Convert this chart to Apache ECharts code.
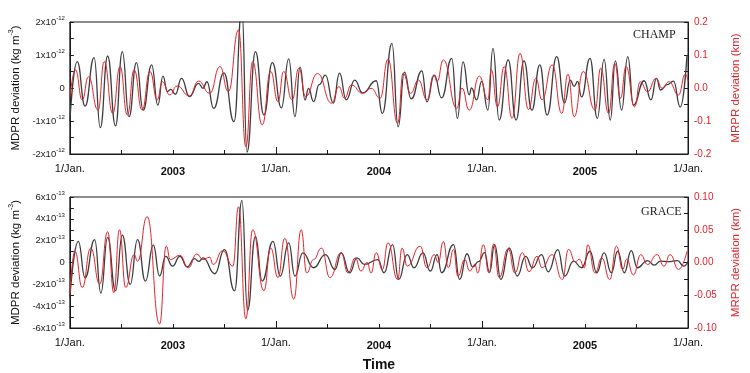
<!DOCTYPE html>
<html><head><meta charset="utf-8">
<script src="https://cdn.jsdelivr.net/npm/echarts@6/dist/echarts.min.js"></script>
<style>html,body{margin:0;padding:0;background:#fff}#c{width:750px;height:373px}</style>
</head><body><div id="c"></div>
<script>
// x values: days since 1 Jan 2003
const champMdprDay = [0,13,27,43,54,67,81,93,105,118,130,145,156,165,173,179,187,198,212,228,236,243,255,273,291,305,314,329,344,359,375,388,399,408,417,423,432,442,453,467,478,490,505,519,543,554,571,582,593,605,624,633,646,659,677,687,697,708,712,721,730,741,750,761,777,791,805,819,833,846,863,877,887,894,900,907,922,935,947,958,967,978,989,999,1018,1030,1040,1047,1059,1070,1082,1094];
// MDPR (x1e-12 kg m^-3)
const champMdprVal = [-1.0,0.80,-0.55,0.92,-1.20,0.97,-1.15,1.10,-0.87,0.77,-0.67,0.70,-0.52,0.36,-0.11,-0.04,-0.19,0.29,-0.26,0.14,-0.01,0.19,-0.62,0.46,-1.02,2.4,-1.94,1.10,-0.82,0.77,-0.60,0.88,-0.87,0.63,-0.36,-0.01,-0.41,0.10,0.39,-0.46,0.45,-0.36,0.24,-0.15,0.22,-0.77,1.35,-1.18,0.48,-0.33,0.52,-0.42,0.39,-0.30,0.9,-0.92,0.79,-0.21,0.0,-0.36,0.2,-0.67,1.2,-0.97,0.85,-0.97,0.82,-0.67,0.70,-0.82,0.95,-0.45,0.24,0.05,0.2,-0.27,0.9,-0.92,0.87,-0.97,0.82,-0.67,0.95,-0.52,0.22,-0.36,0.29,-0.06,0.1,0.21,-0.58,1.0];
const champMrprDay = [0,10,22,33,50,61,76,89,102,114,128,142,155,164,177,190,212,228,248,266,281,299,312,324,341,356,369,379,394,406,418,439,464,477,487,499,519,534,550,564,581,591,604,618,633,645,651,662,686,695,708,726,741,747,758,770,784,798,813,826,837,855,872,883,894,910,931,941,955,966,976,986,1001,1011,1024,1039,1050,1062,1079,1091,1096];
// MRPR (km)
const champMrprVal = [-0.03,0.055,-0.036,0.034,-0.067,0.08,-0.077,0.065,-0.082,0.055,-0.067,0.05,-0.036,0.019,-0.021,0.006,-0.024,0.021,-0.016,0.065,-0.011,0.176,-0.178,0.08,-0.112,0.05,-0.041,0.05,-0.036,0.06,-0.026,0.044,-0.046,0.004,-0.031,0.009,-0.016,-0.001,-0.031,0.087,-0.107,0.045,-0.016,0.024,-0.036,0.039,0.02,0.085,-0.062,0.0,-0.067,0.036,-0.036,0.055,-0.057,0.065,-0.092,0.105,-0.065,0.029,-0.036,0.07,-0.077,0.042,-0.087,0.05,-0.067,0.06,-0.077,0.075,-0.031,0.065,-0.057,0.019,-0.011,0.029,-0.001,0.019,-0.021,0.042,0.02];
const graceMdprDay = [0,15,27,44,55,67,81,93,107,120,134,148,159,170,182,195,208,221,229,236,257,274,292,305,315,329,341,360,373,388,399,413,432,453,470,481,496,509,522,546,557,572,583,598,610,626,639,651,659,680,691,704,714,725,735,744,753,764,779,793,808,820,836,848,865,877,893,907,922,934,947,960,971,983,995,1006,1024,1036,1047,1061,1077,1088,1096];
// MDPR (x1e-13 kg m^-3)
const graceMdprVal = [-3.2,1.94,-1.4,2.1,-2.8,2.3,-2.6,2.5,-2.0,2.1,-1.7,1.6,-1.24,0.57,-0.33,0.57,-0.4,0.35,0.1,0.42,-1.03,1.18,-2.6,5.7,-4.4,2.4,-1.7,1.94,-1.24,1.8,-1.24,0.88,-0.48,0.73,-0.64,0.88,-0.94,0.42,-0.18,0.27,-0.94,1.64,-1.55,0.73,-0.48,0.88,-0.79,0.73,-0.94,1.64,-1.55,0.8,-0.4,0.1,0.9,-0.9,1.64,-1.55,1.33,-1.24,0.57,-0.48,0.73,-0.85,1.18,-1.24,0.12,-0.48,1.03,-0.94,0.88,-0.94,1.03,-0.94,1.09,-0.48,0.18,-0.24,0.12,0.08,0.18,-0.33,0.12];
const graceMrprDay = [0,9,22,37,53,67,78,88,99,114,120,137,159,171,178,195,210,225,236,248,254,271,289,299,312,324,344,356,369,381,397,410,420,432,446,461,481,493,506,516,527,534,543,554,564,581,589,598,621,633,646,653,662,671,680,688,700,709,718,723,733,743,751,761,777,789,802,814,828,837,855,873,884,896,903,912,918,931,943,957,969,980,987,999,1012,1024,1041,1053,1064,1079,1094];
const graceMrprVal = [-0.048,0.017,-0.038,0.022,-0.033,0.047,-0.046,0.050,-0.038,0.012,0.002,0.070,-0.094,0.025,0.0045,0.011,-0.008,0.013,0.0045,0.008,-0.003,0.018,-0.0056,0.085,-0.086,0.050,-0.043,0.022,-0.023,0.037,-0.056,0.050,-0.016,0.0045,0.022,-0.023,0.015,-0.016,0.007,-0.013,0.0,-0.016,0.015,-0.0106,0.030,-0.026,0.022,-0.0056,0.025,-0.008,0.012,0.0,0.032,-0.008,0.020,-0.021,0.0045,-0.013,-0.003,-0.016,0.027,-0.016,0.028,-0.023,0.021,-0.016,0.015,-0.014,0.0095,-0.008,0.012,-0.026,0.020,0.001,0.005,-0.008,0.027,-0.016,0.007,-0.026,0.025,-0.0106,0.005,-0.019,0.012,-0.003,0.012,-0.0056,0.012,-0.0106,0.017];
const yearLabels = ['2003','2004','2005'];
const janLabel = '1/Jan.';
const panelLabels = ['CHAMP','GRACE'];

const YEAR = 365.25;
const FONT = 'Liberation Sans, Arial, sans-serif';
const BLACK = '#3c3c3c', RED = '#e3232b', AX = '#1a1a1a';
const zip = (a, b) => a.map((d, i) => [d, b[i]]);

function expFmt(exp) {
  return v => {
    const r = Math.round(v * 100) / 100;
    if (r === 0) return '{n|0}';
    return '{n|' + r + 'x10}{s|' + exp + '}';
  };
}
const expRich = {
  n: {fontSize: 9.5, fontFamily: FONT, color: '#222'},
  s: {fontSize: 6, fontFamily: FONT, color: '#222', padding: [0, 0, 7, 0]}
};

function xAxes(g, withName) {
  return [{
    gridIndex: g, type: 'value', min: 0, max: 3 * YEAR, interval: YEAR,
    axisLine: {show: true, onZero: false, lineStyle: {color: AX, width: 1}},
    axisTick: {show: true, inside: true, length: 7, lineStyle: {color: AX}},
    minorTick: {show: true, splitNumber: 4, length: 4, lineStyle: {color: AX}},
    splitLine: {show: false}, minorSplitLine: {show: false},
    axisLabel: {formatter: () => janLabel, fontSize: 11, fontFamily: FONT, color: '#111', margin: 9},
    name: withName ? 'Time' : '', nameLocation: 'middle', nameGap: 30,
    nameTextStyle: {fontSize: 14, fontWeight: 'bold', fontFamily: FONT, color: '#111'}
  }, {
    gridIndex: g, type: 'value', min: 0, max: 3 * YEAR, interval: YEAR / 2, position: 'bottom',
    axisLine: {show: false, onZero: false}, axisTick: {show: false}, splitLine: {show: false},
    axisLabel: {
      fontSize: 11, fontWeight: 'bold', fontFamily: FONT, color: '#111', margin: 12,
      formatter: v => { const k = Math.round(v / (YEAR / 2)); return k % 2 === 1 ? yearLabels[(k - 1) / 2] : ''; }
    }
  }];
}
function yLeft(g, mx, iv, exp) {
  return {
    gridIndex: g, type: 'value', min: -mx, max: mx, interval: iv, position: 'left',
    axisLine: {show: true, onZero: false, lineStyle: {color: AX}},
    axisTick: {show: true, inside: true, length: 4, lineStyle: {color: AX}},
    minorTick: {show: true, splitNumber: 2, length: 4, lineStyle: {color: AX}},
    splitLine: {show: false}, minorSplitLine: {show: false},
    axisLabel: {formatter: expFmt(exp), rich: expRich, margin: 5},
    name: '{t|MDPR deviation (kg m}{s|-3}{t|)}', nameLocation: 'middle', nameGap: 46,
    nameTextStyle: {rich: {t: {fontSize: 11.5, fontFamily: FONT, color: '#111'}, s: {fontSize: 7, fontFamily: FONT, color: '#111', padding: [0, 0, 8, 0]}}}
  };
}
function yRight(g, mx, iv, dec) {
  return {
    gridIndex: g, type: 'value', min: -mx, max: mx, interval: iv, position: 'right',
    axisLine: {show: true, onZero: false, lineStyle: {color: AX}},
    axisTick: {show: true, inside: true, length: 4, lineStyle: {color: AX}},
    minorTick: {show: true, splitNumber: 2, length: 4, lineStyle: {color: AX}},
    splitLine: {show: false}, minorSplitLine: {show: false},
    axisLabel: {formatter: v => v.toFixed(dec), color: RED, fontSize: 10, fontFamily: FONT, margin: 6},
    name: 'MRPR deviation (km)', nameLocation: 'middle', nameGap: 42, nameRotate: 90,
    nameTextStyle: {fontSize: 11.5, fontFamily: FONT, color: RED}
  };
}
function line(data, xi, yi, color, w) {
  return {type: 'line', xAxisIndex: xi, yAxisIndex: yi, data, smooth: 0.5, smoothMonotone: 'x', showSymbol: false,
    lineStyle: {color, width: w}, itemStyle: {color}, clip: true, z: color === RED ? 3 : 2};
}

const chart = echarts.init(document.getElementById('c'), null, {renderer: 'canvas'});
chart.setOption({
  animation: false,
  backgroundColor: '#fff',
  grid: [
    {left: 65, right: 59, top: 22, height: 132, show: true, borderColor: AX, borderWidth: 1},
    {left: 65, right: 58, top: 197, height: 132, show: true, borderColor: AX, borderWidth: 1}
  ],
  xAxis: [...xAxes(0, false), ...xAxes(1, true)],
  yAxis: [yLeft(0, 2, 1, '-12'), yRight(0, 0.2, 0.1, 1), yLeft(1, 6, 2, '-13'), yRight(1, 0.1, 0.05, 2)],
  graphic: [
    {type: 'text', left: 633, top: 29, style: {text: panelLabels[0], font: '12px "Liberation Serif", serif', fill: '#222'}},
    {type: 'text', left: 641, top: 206, style: {text: panelLabels[1], font: '12px "Liberation Serif", serif', fill: '#222'}}
  ],
  series: [
    line(zip(champMdprDay, champMdprVal), 0, 0, BLACK, 1.3),
    line(zip(champMrprDay, champMrprVal), 0, 1, RED, 1),
    line(zip(graceMdprDay, graceMdprVal), 2, 2, BLACK, 1.3),
    line(zip(graceMrprDay, graceMrprVal), 2, 3, RED, 1)
  ]
});
</script></body></html>
